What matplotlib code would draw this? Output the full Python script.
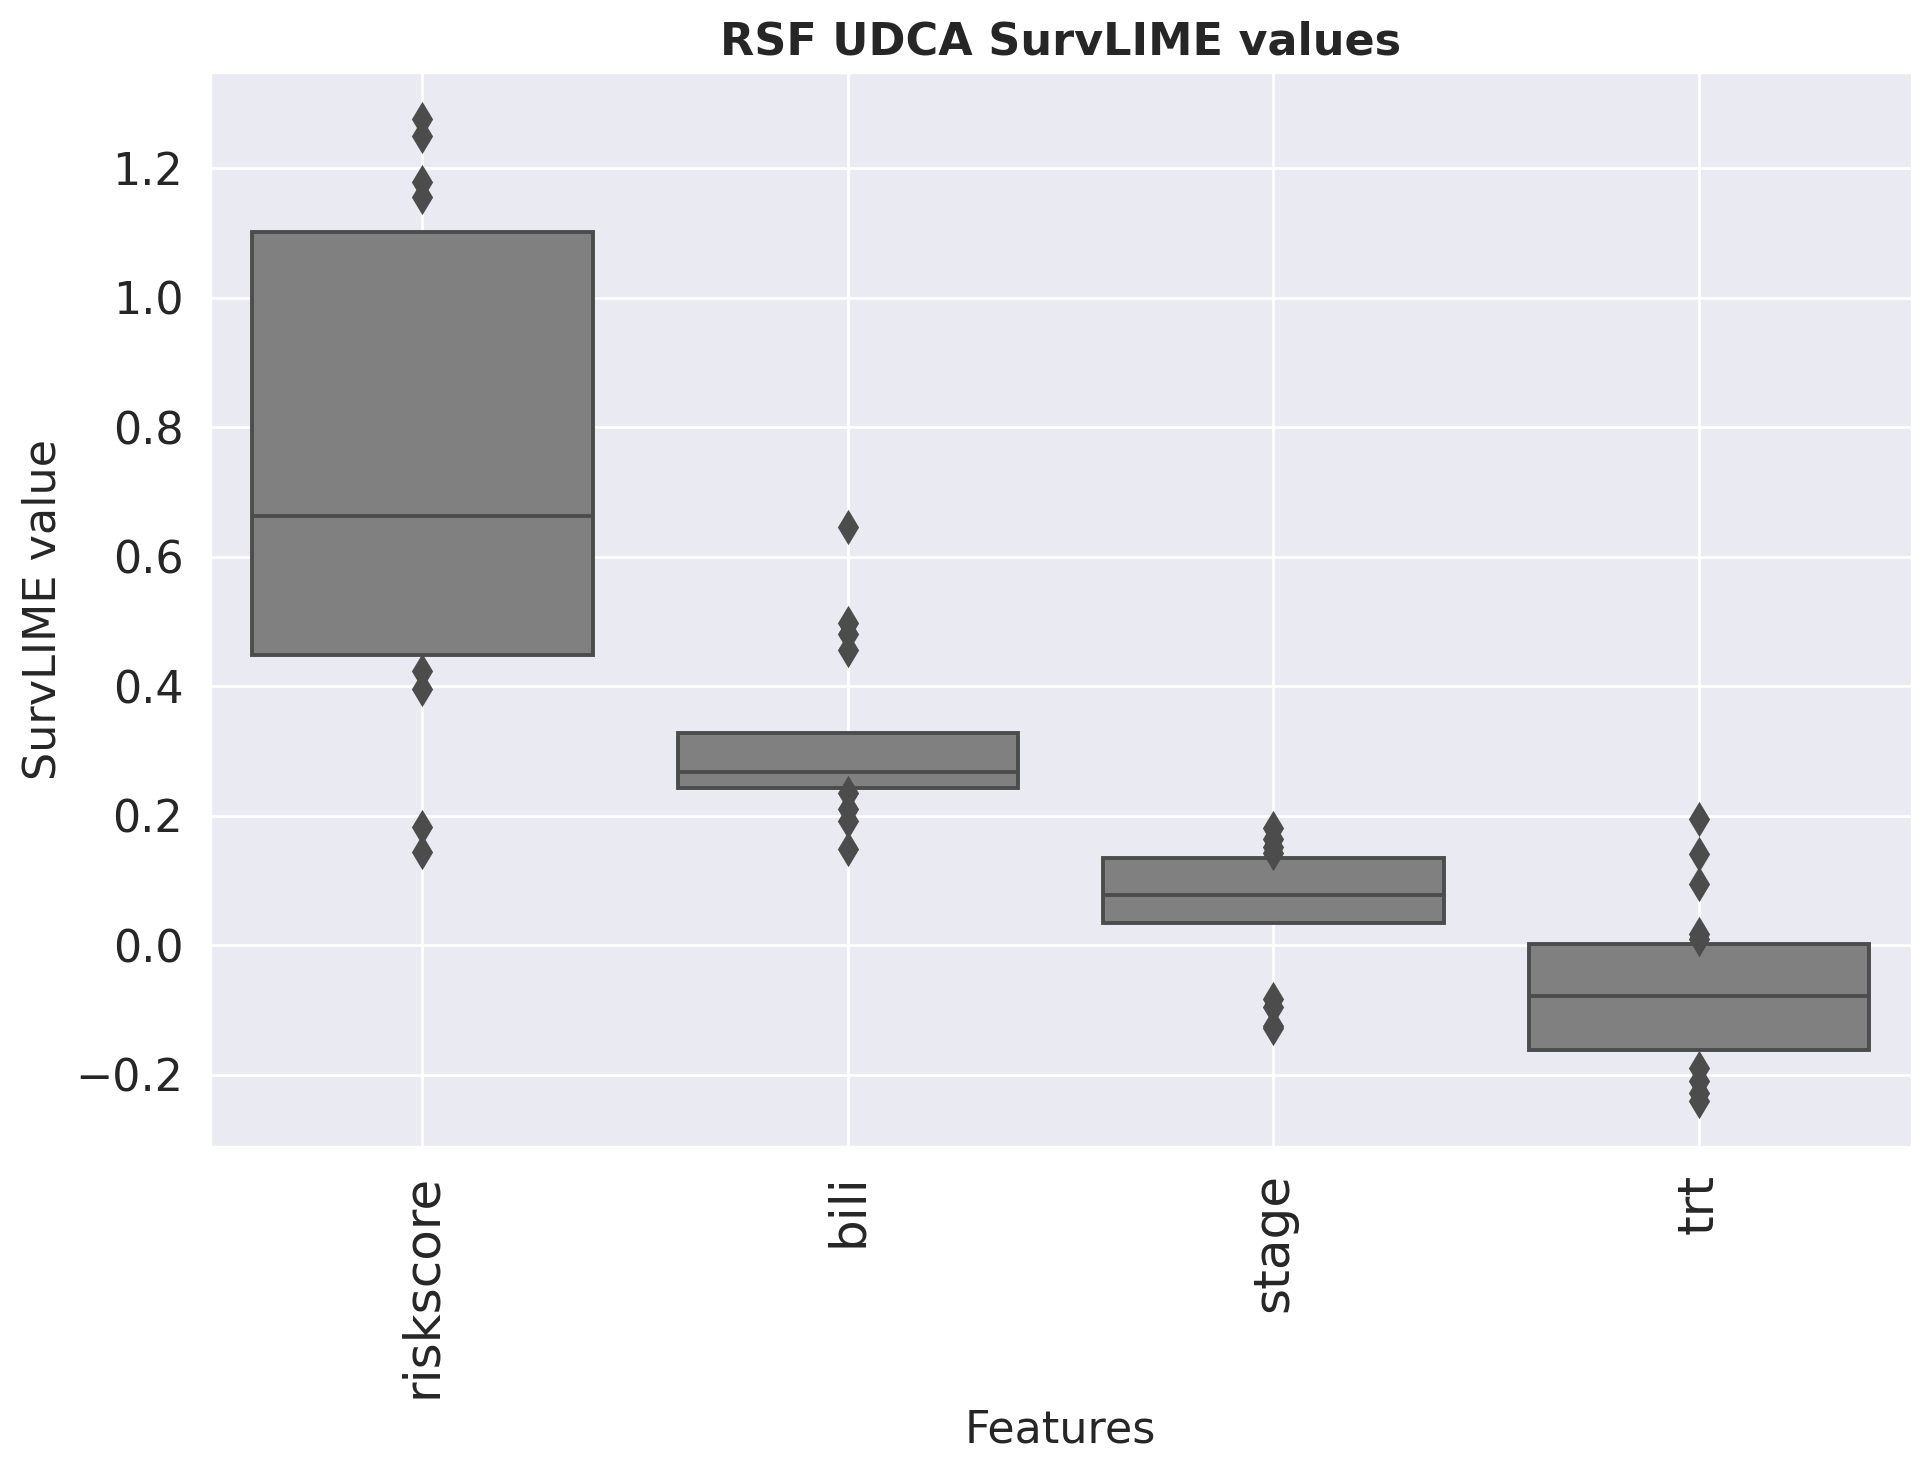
import matplotlib
matplotlib.use("Agg")
import matplotlib.pyplot as plt
import seaborn as sns

features = ["riskscore", "bili", "stage", "trt"]
q1 = [0.448, 0.242, 0.034, -0.162]
med = [0.663, 0.267, 0.077, -0.078]
q3 = [1.101, 0.328, 0.134, 0.002]
fliers = [
    [1.276, 1.250, 1.179, 1.156, 0.423, 0.396, 0.183, 0.143],
    [0.646, 0.497, 0.481, 0.455, 0.235, 0.210, 0.192, 0.148],
    [0.181, 0.164, 0.152, 0.142, -0.083, -0.095, -0.125, -0.128],
    [0.195, 0.140, 0.094, 0.017, 0.010, -0.190, -0.210, -0.228, -0.241],
]

sns.set_theme(style="darkgrid")
plt.rcParams['font.family'] = ['DejaVu Sans']

fig = plt.figure(figsize=(9.665, 7.365), dpi=200)
ax = fig.add_axes([0.1085, 0.2213, 0.8805, 0.7301])

stats = []
for i, name in enumerate(features):
    stats.append({'label': name, 'q1': q1[i], 'med': med[i], 'q3': q3[i],
                  'whislo': q1[i], 'whishi': q3[i], 'fliers': fliers[i]})

edge = '#4c4c4c'
ax.bxp(stats, positions=range(len(features)), widths=0.8, patch_artist=True,
       showcaps=False,
       boxprops=dict(facecolor='#808080', edgecolor=edge, linewidth=1.4),
       medianprops=dict(color=edge, linewidth=1.4),
       whiskerprops=dict(color=edge, linewidth=1.4),
       flierprops=dict(marker='d', markerfacecolor=edge, markeredgecolor=edge,
                       markersize=7.5, markeredgewidth=1))

ax.set_xlim(-0.5, 3.5)
ax.set_ylim(-0.312, 1.349)
ax.set_xticks(range(len(features)))
ax.set_xticklabels(features, rotation=90, fontsize=18)
ax.tick_params(axis='y', labelsize=16)
ax.set_xlabel("Features", fontsize=16)
ax.set_ylabel("SurvLIME value", fontsize=16)
ax.set_title("RSF UDCA SurvLIME values", fontsize=16, fontweight='bold')

fig.savefig("out.png", dpi=200)
